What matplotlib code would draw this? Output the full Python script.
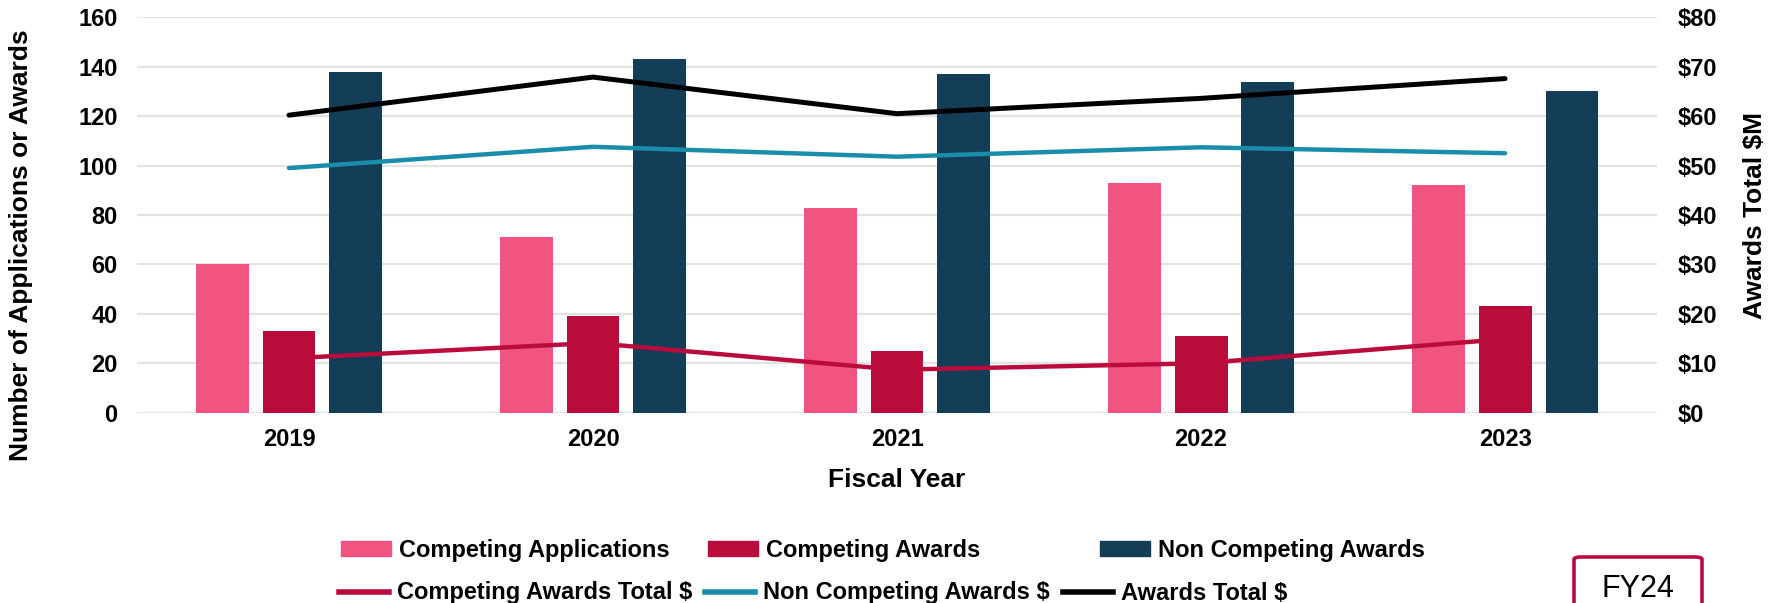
import matplotlib
matplotlib.use("Agg")
import matplotlib.pyplot as plt
import numpy as np
from matplotlib.patches import Patch, FancyBboxPatch
from matplotlib.lines import Line2D

plt.rcParams['font.family'] = ['Liberation Sans', 'DejaVu Sans']

# Datos
anios = ["2019", "2020", "2021", "2022", "2023"]
solicitudes_comp = [60, 71, 83, 93, 92]
premios_comp = [33, 39, 25, 31, 43]
premios_no_comp = [138, 143, 137, 134, 130]

total_comp = [11.0, 14.1, 8.7, 10.0, 14.9]       # $M
total_no_comp = [49.5, 53.8, 51.8, 53.7, 52.5]   # $M
total_premios = [60.2, 67.9, 60.5, 63.6, 67.6]   # $M

c_rosa = "#F15480"
c_rojo = "#BA0C3C"
c_azul = "#143D57"
c_teal = "#1A8DAA"

fig = plt.figure(figsize=(17.7, 6.03), dpi=100)
ax = fig.add_axes([0.0774, 0.3156, 0.8588, 0.6557])
ax2 = ax.twinx()

x = np.arange(len(anios))
ancho = 0.174
sep = 0.22
ax.bar(x - sep, solicitudes_comp, ancho, color=c_rosa)
ax.bar(x, premios_comp, ancho, color=c_rojo)
ax.bar(x + sep, premios_no_comp, ancho, color=c_azul)

ax2.plot(x, total_comp, color=c_rojo, lw=3.2, solid_capstyle="round")
ax2.plot(x, total_no_comp, color=c_teal, lw=3.2, solid_capstyle="round")
ax2.plot(x, total_premios, color="black", lw=3.6, solid_capstyle="round")

ax.set_xlim(-0.5, 4.5)
ax.set_ylim(0, 160)
ax2.set_ylim(0, 80)
ax.set_yticks(range(0, 161, 20))
ax2.set_yticks(range(0, 81, 10))
ax2.set_yticklabels(["$%d" % v for v in range(0, 81, 10)])
ax.set_xticks(x)
ax.set_xticklabels(anios)

ax.set_axisbelow(True)
ax.grid(axis="y", color="#E3E3E3", lw=1.6)
for a in (ax, ax2):
    for s in a.spines.values():
        s.set_visible(False)
    a.tick_params(length=0, labelsize=17)
    for lab in a.get_xticklabels() + a.get_yticklabels():
        lab.set_fontweight("bold")
ax.tick_params(axis="y", pad=14)
ax.tick_params(axis="x", pad=11)
ax2.tick_params(axis="y", pad=15)

ax.set_xlabel("Fiscal Year", fontsize=19, fontweight="bold")
ax.xaxis.set_label_coords(0.5, -0.14)
ax.set_ylabel("Number of Applications or Awards", fontsize=19, fontweight="bold")
ax.yaxis.set_label_coords(-0.0684, 0.424)
ax2.set_ylabel("Awards Total $M", fontsize=19, fontweight="bold")
ax2.yaxis.set_label_coords(1.0566, 0.498)

# Leyenda (posiciones tipo Excel)
entradas = [
    (Patch(color=c_rosa), "Competing Applications", 341, 550),
    (Patch(color=c_rojo), "Competing Awards", 708, 550),
    (Patch(color=c_azul), "Non Competing Awards", 1100, 550),
    (Line2D([], [], color=c_rojo, lw=4), "Competing Awards Total $", 339, 593),
    (Line2D([], [], color=c_teal, lw=4), "Non Competing Awards $", 705, 593),
    (Line2D([], [], color="black", lw=4), "Awards Total $", 1063, 593),
]
for h, txt, px, py in entradas:
    leg = fig.legend([h], [txt], loc="center left",
                     bbox_to_anchor=(px / 1770, 1 - py / 603),
                     frameon=False, borderpad=0, borderaxespad=0,
                     handlelength=2.1, handleheight=0.62, handletextpad=0.35,
                     prop={"size": 17, "weight": "bold"})

caja = FancyBboxPatch((1574 / 1770, -0.1), 128 / 1770, 0.1763,
                      boxstyle="round,pad=0,rounding_size=0.004",
                      transform=fig.transFigure, fill=False,
                      edgecolor=c_rojo, lw=2.6)
fig.add_artist(caja)
fig.text(1638 / 1770, 0.01, "FY24", fontsize=22, ha="center", va="baseline")

fig.savefig("out.png", dpi=100)
